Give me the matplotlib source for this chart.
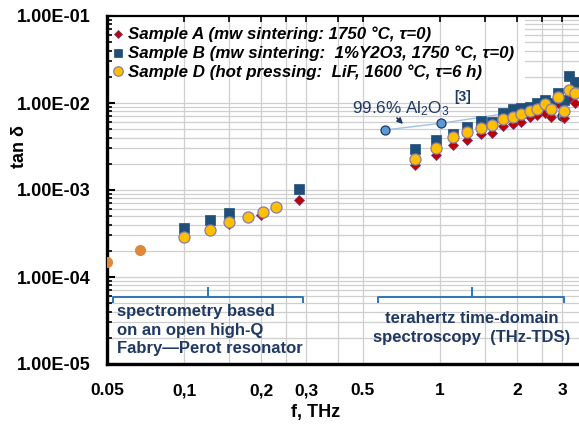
import matplotlib
matplotlib.use("Agg")
import matplotlib.pyplot as plt
import matplotlib.transforms as mtransforms
import numpy as np

plt.rcParams['font.family'] = ['Liberation Sans', 'DejaVu Sans']
plt.rcParams['mathtext.default'] = 'regular'

# ---------------- data ----------------
# Fabry-Perot resonator range
fp_freq_A = [0.15, 0.2, 0.28]
fp_tan_A = [4.1e-4, 5.2e-4, 7.7e-4]
fp_freq_B = [0.1, 0.126, 0.15, 0.28]
fp_tan_B = [3.66e-4, 4.5e-4, 5.5e-4, 1.04e-3]
fp_freq_D = [0.1, 0.126, 0.15, 0.178, 0.203, 0.229]
fp_tan_D = [2.88e-4, 3.47e-4, 4.33e-4, 4.93e-4, 5.63e-4, 6.43e-4]
extra_freq = [0.05, 0.067]
extra_tan = [1.5e-4, 2.04e-4]

# THz-TDS range
tds_freq = [0.8, 0.96, 1.12, 1.28, 1.44, 1.6, 1.76, 1.92, 2.08, 2.24,
            2.4, 2.56, 2.72, 2.88, 3.04, 3.2, 3.36]
tds_tan_A = [1.94e-3, 2.52e-3, 3.29e-3, 3.76e-3, 4.40e-3, 4.56e-3, 5.48e-3,
             5.74e-3, 6.1e-3, 6.85e-3, 7.28e-3, 7.74e-3, 6.97e-3, 1.01e-2,
             6.67e-3, 1.15e-2, 1.0e-2]
tds_tan_B = [2.94e-3, 3.76e-3, 4.37e-3, 5.26e-3, 6.21e-3, 6.1e-3, 7.74e-3,
             8.48e-3, 8.77e-3, 9.06e-3, 9.93e-3, 1.08e-2, 1.0e-2, 1.29e-2,
             1.08e-2, 2.04e-2, 1.76e-2]
tds_tan_D = [2.27e-3, 3.06e-3, 4.03e-3, 4.61e-3, 5.22e-3, 5.58e-3, 6.55e-3,
             6.97e-3, 7.41e-3, 8.09e-3, 8.48e-3, 9.66e-3, 8.48e-3, 1.18e-2,
             8.09e-3, 1.41e-2, 1.31e-2]

al_freq = [0.61, 1.01, 2.0, 3.0]
al_tan = [4.9e-3, 5.85e-3, 7.9e-3, 7.1e-3]

labels = ["Sample A (mw sintering: 1750 °C, τ=0)",
          "Sample B (mw sintering:  1%Y2O3, 1750 °C, τ=0)",
          "Sample D (hot pressing:  LiF, 1600 °C, τ=6 h)"]

xtick_vals = [0.05, 0.1, 0.2, 0.3, 0.5, 1, 2, 3]
xtick_labels = ["0.05", "0,1", "0,2", "0,3", "0.5", "1", "2", "3"]
xgrid_vals = [0.1, 0.15, 0.2, 0.25, 0.3, 0.4, 0.5, 1, 1.5, 2, 2.5, 3]
ytick_vals = [1e-5, 1e-4, 1e-3, 1e-2, 1e-1]
ytick_labels = ["1.00E-05", "1.00E-04", "1.00E-03", "1.00E-02", "1.00E-01"]

# ---------------- figure ----------------
W, H = 579, 426
fig = plt.figure(figsize=(W / 100, H / 100), dpi=100)
ax = fig.add_axes([107 / W, 1 - 364 / H, 1 - 107 / W, (364 - 16) / H])
ax.set_xscale('log')
ax.set_yscale('log')
ax.set_xlim(0.05, 3.49)
ax.set_ylim(1e-5, 1e-1)

gridc = '#CFCFCF'
for xv in xgrid_vals:
    ax.axvline(xv, color=gridc, lw=0.9, zorder=0)
for dec in [1e-5, 1e-4, 1e-3]:
    for m in range(1, 10):
        ax.axhline(dec * m, color=gridc, lw=0.9, zorder=0)
ax.axhline(1e-2, color=gridc, lw=0.9, zorder=0)
for m in range(2, 10):
    ax.axhline(1e-2 * m, xmin=0.886, color=gridc, lw=0.9, zorder=0)

navy = '#1F3864'
cA, eA = '#C00000', '#7A3A78'
cB = '#1F4E79'
cD, eD = '#FFC000', '#8A7DA8'

# Al2O3 reference
ax.plot(al_freq, al_tan, '-', color='#9DC3E6', lw=1.0, zorder=2)
ax.plot(al_freq, al_tan, 'o', ms=6.5, mfc='#5B9BD5', mec=navy, mew=0.9,
        zorder=2, ls='none')

kwA = dict(marker='D', ms=5, mfc=cA, mec=eA, mew=0.6, ls='none', zorder=3)
kwB = dict(marker='s', ms=7.2, mfc=cB, mec=cB, mew=0.5, ls='none', zorder=3)
kwD = dict(marker='o', ms=8, mfc=cD, mec=eD, mew=0.9, ls='none', zorder=4)

ax.plot(fp_freq_A + tds_freq, fp_tan_A + tds_tan_A, label=labels[0], **kwA)
ax.plot(fp_freq_B + tds_freq, fp_tan_B + tds_tan_B, label=labels[1], **kwB)
ax.plot(fp_freq_D + tds_freq, fp_tan_D + tds_tan_D, label=labels[2], **kwD)
ax.plot(extra_freq, extra_tan, 'o', ms=7, mfc='#E0873A', mec='#E0873A',
        ls='none', zorder=3)

# legend
leg = ax.legend(loc='upper left', bbox_to_anchor=(0.0, 1 - 5 / 348),
                frameon=False, borderaxespad=0.15,
                handlelength=0.6, handletextpad=0.3, labelspacing=0.2,
                borderpad=0.2,
                prop=dict(family='Liberation Sans', weight='bold',
                          style='italic', size=12.2))
for h in leg.legend_handles:
    h.set_markersize(h.get_markersize() * 0.85)

# axes styling
ax.spines['right'].set_visible(False)
ax.spines['left'].set_linewidth(2.4)
ax.spines['bottom'].set_linewidth(2.4)
ax.spines['top'].set_linewidth(1.6)

ax.set_yticks(ytick_vals)
ax.set_yticklabels(ytick_labels)
ax.yaxis.set_minor_locator(matplotlib.ticker.LogLocator(base=10, subs=np.arange(2, 10)))
ax.yaxis.set_minor_formatter(matplotlib.ticker.NullFormatter())
ax.tick_params(axis='y', which='major', direction='in', length=6, width=1.5,
               pad=12, labelsize=13)
ax.tick_params(axis='y', which='minor', direction='in', length=3.5, width=1.2)

ax.set_xticks(xtick_vals)
ax.set_xticklabels(xtick_labels)
ax.xaxis.remove_overlapping_locs = False
ax.set_xticks(xgrid_vals, minor=True)
ax.xaxis.set_minor_formatter(matplotlib.ticker.NullFormatter())
ax.tick_params(axis='x', which='major', length=0, pad=14, labelsize=12.5,
               bottom=True, top=False)
ax.tick_params(axis='x', which='minor', direction='in', length=4, width=1.2,
               bottom=False, top=True)
for t in ax.get_xticklabels() + ax.get_yticklabels():
    t.set_fontweight('bold')

fig.text(316 / W, 1 - 413 / H, 'f, THz', ha='center', va='center',
         fontsize=13, fontweight='bold')
fig.text(20 / W, 1 - 146 / H, 'tan δ', ha='center', va='center',
         rotation=90, fontsize=13, fontweight='bold')

# annotations
fig.text(352 / W, 1 - 113 / H, '99.6% Al$_{2}$O$_{3}$',
         ha='left', va='baseline', fontsize=12.3, color=navy)
fig.text(463 / W, 1 - 97 / H, '[3]',
         ha='center', va='center', fontsize=10, fontweight='bold', color=navy)
ax.annotate('', xy=(405 / W, 1 - 126 / H), xytext=(395 / W, 1 - 116 / H),
            xycoords='figure fraction', textcoords='figure fraction',
            arrowprops=dict(arrowstyle='-|>', color=navy, lw=1.2,
                            mutation_scale=8))

# brackets
bt = mtransforms.blended_transform_factory(ax.transData, ax.transAxes)
bc = '#2E75B6'
def bracket(x0, x1, xc):
    yb, ye, yc = 0.1925, 0.178, 0.218
    ax.plot([x0, x0, x1, x1], [ye, yb, yb, ye], color=bc, lw=1.4,
            transform=bt, clip_on=False, zorder=5)
    ax.plot([xc, xc], [yb, yc], color=bc, lw=1.4, transform=bt,
            clip_on=False, zorder=5)
bracket(0.053, 0.292, 0.124)
bracket(0.57, 3.05, 1.33)

fig.text(117 / W, 1 - 330 / H,
         'spectrometry based\non an open high-Q\nFabry\u2014Perot resonator',
         ha='left', va='center', fontsize=12, fontweight='bold', color=navy,
         linespacing=1.3)
fig.text(472 / W, 1 - 328 / H,
         'terahertz time-domain\nspectroscopy  (THz-TDS)',
         ha='center', va='center', fontsize=12, fontweight='bold', color=navy,
         linespacing=1.3)

fig.savefig('out.png', dpi=100)
